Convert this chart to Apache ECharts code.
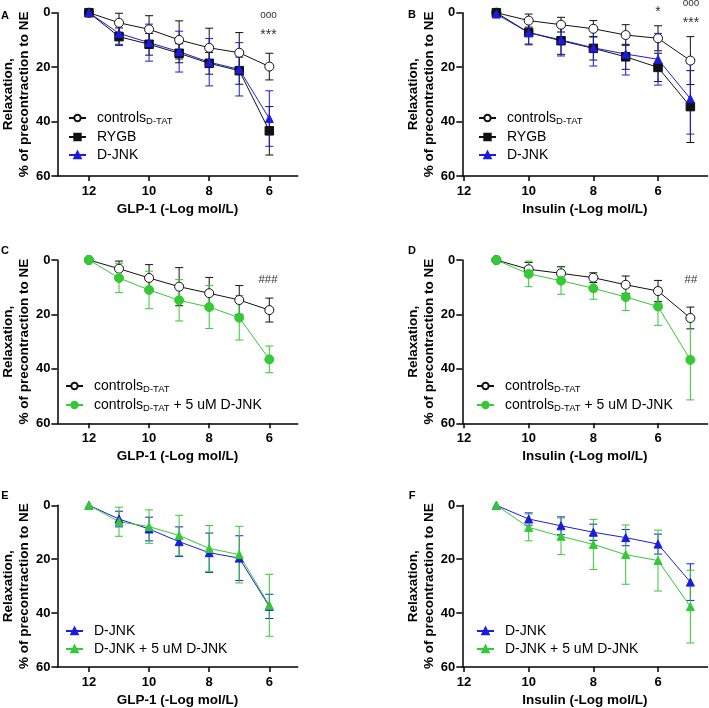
<!DOCTYPE html>
<html><head><meta charset="utf-8">
<script src="https://cdn.jsdelivr.net/npm/echarts@6/dist/echarts.min.js"></script>
<style>html,body{margin:0;padding:0;background:#fff}#c{width:709px;height:708px}</style>
</head><body><div id="c"></div>
<script>
// ---------- data ----------
const glpDoses = [12, 11, 10, 9, 8, 7, 6];
const insDoses = [11, 10, 9, 8, 7, 6, 5];
const xTickLabels = [12, 10, 8, 6];
const yTickLabels = [0, 20, 40, 60];

// Panel A (GLP-1)
const aCtrl = [0, 3.7, 6.1, 10.0, 12.9, 14.7, 19.8];
const aCtrlErr = [0, 3.5, 5.0, 7.0, 7.2, 7.4, 4.9];
const aRygb = [0, 8.8, 11.6, 14.9, 18.6, 21.3, 43.4];
const aRygbErr = [0, 3.2, 4.0, 3.5, 4.0, 5.0, 8.9];
const aDjnk = [0, 7.6, 11.0, 14.3, 18.2, 20.8, 38.9];
const aDjnkErr = [0, 4.0, 6.8, 7.5, 8.7, 9.8, 10.2];
// Panel B (Insulin)
const bCtrl = [0, 2.9, 4.4, 5.9, 8.2, 9.4, 17.6];
const bCtrlErr = [0, 2.4, 2.7, 3.0, 3.8, 4.6, 8.8];
const bRygb = [0, 7.3, 10.3, 13.1, 16.2, 20.1, 34.5];
const bRygbErr = [0, 4.5, 5.0, 4.3, 4.6, 5.2, 13.2];
const bDjnk = [0.5, 7.3, 10.0, 12.9, 15.2, 17.1, 31.6];
const bDjnkErr = [0, 4.2, 5.9, 6.7, 7.7, 9.5, 13.0];
// Panel C (GLP-1)
const cCtrl = [0, 3.2, 6.6, 9.8, 12.2, 14.7, 18.4];
const cCtrlErr = [0, 2.8, 4.9, 7.0, 5.8, 5.3, 4.4];
const cCtrlJnk = [0, 6.6, 11.0, 14.8, 17.3, 21.2, 36.5];
const cCtrlJnkErr = [0, 5.4, 6.9, 7.6, 7.9, 8.2, 4.9];
// Panel D (Insulin)
const dCtrl = [0, 3.4, 4.9, 6.5, 9.1, 11.4, 21.3];
const dCtrlErr = [0, 2.5, 2.5, 1.8, 3.2, 3.9, 4.0];
const dCtrlJnk = [0, 5.1, 7.6, 10.4, 13.6, 17.1, 36.7];
const dCtrlJnkErr = [0, 4.7, 5.0, 4.0, 5.0, 6.9, 14.7];
// Panel E (GLP-1)
const eDjnk = [0, 5.1, 8.8, 13.5, 17.6, 19.6, 37.5];
const eDjnkErr = [0, 2.9, 4.4, 5.5, 7.3, 8.3, 4.5];
const eDjnkJnk = [0, 6.1, 7.9, 11.2, 16.0, 18.3, 37.1];
const eDjnkJnkErr = [0, 5.4, 6.2, 7.5, 8.5, 10.5, 11.5];
// Panel F (Insulin)
const fDjnk = [0, 5.1, 7.6, 10.0, 12.0, 14.4, 28.5];
const fDjnkErr = [0, 2.3, 3.3, 3.0, 3.0, 3.7, 6.8];
const fDjnkJnk = [0, 8.2, 11.5, 14.5, 18.3, 20.5, 37.6];
const fDjnkJnkErr = [0, 5.0, 6.8, 9.3, 11.0, 11.3, 13.5];

const xTitles = ['GLP-1 (-Log mol/L)', 'Insulin (-Log mol/L)'];
const yTitle = 'Relaxation,\n% of precontraction to NE';
const panelLetters = ['A', 'B', 'C', 'D', 'E', 'F'];

// ---------- styles / layout ----------
const FONT = 'Liberation Sans, Arial, Helvetica, sans-serif';
const BLACK = '#111', BLUE = '#1c1ce0', GREEN = '#35c935';
const styles = {
  ctrl:    {symbol: 'circle', size: 9, fill: '#fff', stroke: BLACK, line: BLACK,
            label: '{a|controls}{s|D-TAT}'},
  rygb:    {symbol: 'rect', size: 8.5, fill: BLACK, stroke: BLACK, line: BLACK, label: '{a|RYGB}'},
  djnk:    {symbol: 'triangle', size: 8, fill: BLUE, stroke: BLUE, line: BLUE, label: '{a|D-JNK}'},
  ctrlJnk: {symbol: 'circle', size: 9, fill: GREEN, stroke: GREEN, line: GREEN,
            label: '{a|controls}{s|D-TAT}{a| + 5 uM D-JNK}'},
  djnkJnk: {symbol: 'triangle', size: 8, fill: GREEN, stroke: GREEN, line: GREEN,
            label: '{a|D-JNK + 5 uM D-JNK}'}
};

const colL = {left: 52, width: 245.7, xmin: 5.056, xmax: 13.051};
const colR = {left: 462.3, width: 245.2, xmin: 4.47, xmax: 12.053};
const rowTops = [12.7, 260, 505.3];
const rowH = [163.3, 163.3, 164];

const panels = [
  {col: colL, row: 0, doses: glpDoses, xt: 0, series: [['ctrl', aCtrl, aCtrlErr], ['rygb', aRygb, aRygbErr], ['djnk', aDjnk, aDjnkErr]], leg: [68, 111]},
  {col: colR, row: 0, doses: insDoses, xt: 1, series: [['ctrl', bCtrl, bCtrlErr], ['rygb', bRygb, bRygbErr], ['djnk', bDjnk, bDjnkErr]], leg: [478, 111]},
  {col: colL, row: 1, doses: glpDoses, xt: 0, series: [['ctrl', cCtrl, cCtrlErr], ['ctrlJnk', cCtrlJnk, cCtrlJnkErr]], leg: [65, 379]},
  {col: colR, row: 1, doses: insDoses, xt: 1, series: [['ctrl', dCtrl, dCtrlErr], ['ctrlJnk', dCtrlJnk, dCtrlJnkErr]], leg: [476, 379]},
  {col: colL, row: 2, doses: glpDoses, xt: 0, series: [['djnk', eDjnk, eDjnkErr], ['djnkJnk', eDjnkJnk, eDjnkJnkErr]], leg: [65, 624]},
  {col: colR, row: 2, doses: insDoses, xt: 1, series: [['djnk', fDjnk, fDjnkErr], ['djnkJnk', fDjnkJnk, fDjnkJnkErr]], leg: [476, 624]}
];

const grid = [], xAxis = [], yAxis = [], series = [], legend = [];
const labelOf = {};
const axisLineStyle = {color: '#000', width: 1.5};

panels.forEach((p, i) => {
  grid.push({left: p.col.left, top: rowTops[p.row], width: p.col.width, height: rowH[p.row]});
  xAxis.push({
    type: 'value', gridIndex: i, inverse: true, min: p.col.xmin, max: p.col.xmax,
    axisLine: {onZero: false, lineStyle: axisLineStyle},
    axisTick: {customValues: xTickLabels, length: 5, lineStyle: axisLineStyle},
    axisLabel: {customValues: xTickLabels, margin: 9, color: '#000', fontSize: 13, fontWeight: 'bold', fontFamily: FONT},
    splitLine: {show: false},
    name: xTitles[p.xt], nameLocation: 'middle', nameGap: 26,
    nameTextStyle: {color: '#000', fontSize: 13.5, fontWeight: 'bold', fontFamily: FONT}
  });
  yAxis.push({
    type: 'value', gridIndex: i, inverse: true, min: 0, max: 60, interval: 20,
    axisLine: {show: true, onZero: false, lineStyle: axisLineStyle},
    axisTick: {show: true, length: 6, lineStyle: axisLineStyle},
    axisLabel: {margin: 7, color: '#000', fontSize: 13, fontWeight: 'bold', fontFamily: FONT},
    splitLine: {show: false},
    name: yTitle, nameLocation: 'middle', nameGap: 21, nameRotate: 90,
    nameTextStyle: {color: '#000', fontSize: 13.5, fontWeight: 'bold', fontFamily: FONT, lineHeight: 15.5}
  });
  const names = [];
  p.series.forEach(([key, vals, errs]) => {
    const st = styles[key];
    const name = panelLetters[i] + ':' + key;
    labelOf[name] = st.label;
    names.push(name);
    series.push({
      type: 'custom', name: name + ':err', xAxisIndex: i, yAxisIndex: i, z: 1, silent: true,
      data: p.doses.map((d, k) => [d, vals[k], errs[k]]),
      renderItem: (params, api) => {
        const x = api.value(0), y = api.value(1), e = api.value(2);
        if (!e) return null;
        const t = api.coord([x, y - e]), b = api.coord([x, y + e]);
        const w = 4;
        const s = {stroke: st.line, lineWidth: 1, fill: null};
        return {type: 'group', children: [
          {type: 'line', shape: {x1: t[0], y1: t[1], x2: b[0], y2: b[1]}, style: s},
          {type: 'line', shape: {x1: t[0] - w, y1: t[1], x2: t[0] + w, y2: t[1]}, style: s},
          {type: 'line', shape: {x1: b[0] - w, y1: b[1], x2: b[0] + w, y2: b[1]}, style: s}
        ]};
      }
    });
    series.push({
      type: 'line', name: name, xAxisIndex: i, yAxisIndex: i, z: 3,
      data: p.doses.map((d, k) => [d, vals[k]]),
      symbol: st.symbol, symbolSize: st.size, showSymbol: true,
      lineStyle: {color: st.line, width: 1},
      itemStyle: {color: st.fill, borderColor: st.stroke, borderWidth: 1},
      emphasis: {disabled: true}, animation: false
    });
  });
  legend.push({
    orient: 'vertical', left: p.leg[0], top: p.leg[1], data: names, padding: 0,
    itemWidth: 17, itemHeight: 8, itemGap: 4, selectedMode: false,
    formatter: n => labelOf[n],
    textStyle: {padding: [0, 0, 0, 6], rich: {
      a: {fontSize: 14, lineHeight: 16, color: '#000', fontFamily: FONT},
      s: {fontSize: 9.5, lineHeight: 10, verticalAlign: 'bottom', color: '#000', fontFamily: FONT}
    }}
  });
});

function txt(text, x, y, size, weight, color) {
  return {type: 'text', x: x, y: y, silent: true, z: 10, style: {
    text: text, align: 'center', verticalAlign: 'middle',
    font: (weight || 'normal') + ' ' + size + 'px ' + FONT, fill: color || '#000'}};
}
const graphic = [
  txt('A', 5, 16, 11, 'bold'), txt('B', 412, 15, 11, 'bold'),
  txt('C', 5, 251, 11, 'bold'), txt('D', 412, 251, 11, 'bold'),
  txt('E', 5, 495.5, 11, 'bold'), txt('F', 412, 495.5, 11, 'bold'),
  txt('ooo', 268.5, 15, 10, 'normal', '#333'), txt('***', 268.5, 35, 14, 'normal', '#333'),
  txt('*', 658, 12, 14, 'normal', '#333'),
  txt('ooo', 691, 3.5, 10, 'normal', '#333'), txt('***', 691, 23, 14, 'normal', '#333'),
  txt('###', 268, 280, 11.5, 'normal', '#333'), txt('##', 691, 280, 11.5, 'normal', '#333')
];

const chart = echarts.init(document.getElementById('c'), null, {renderer: 'canvas'});
chart.setOption({animation: false, backgroundColor: '#fff', grid, xAxis, yAxis, series, legend, graphic});
</script></body></html>
